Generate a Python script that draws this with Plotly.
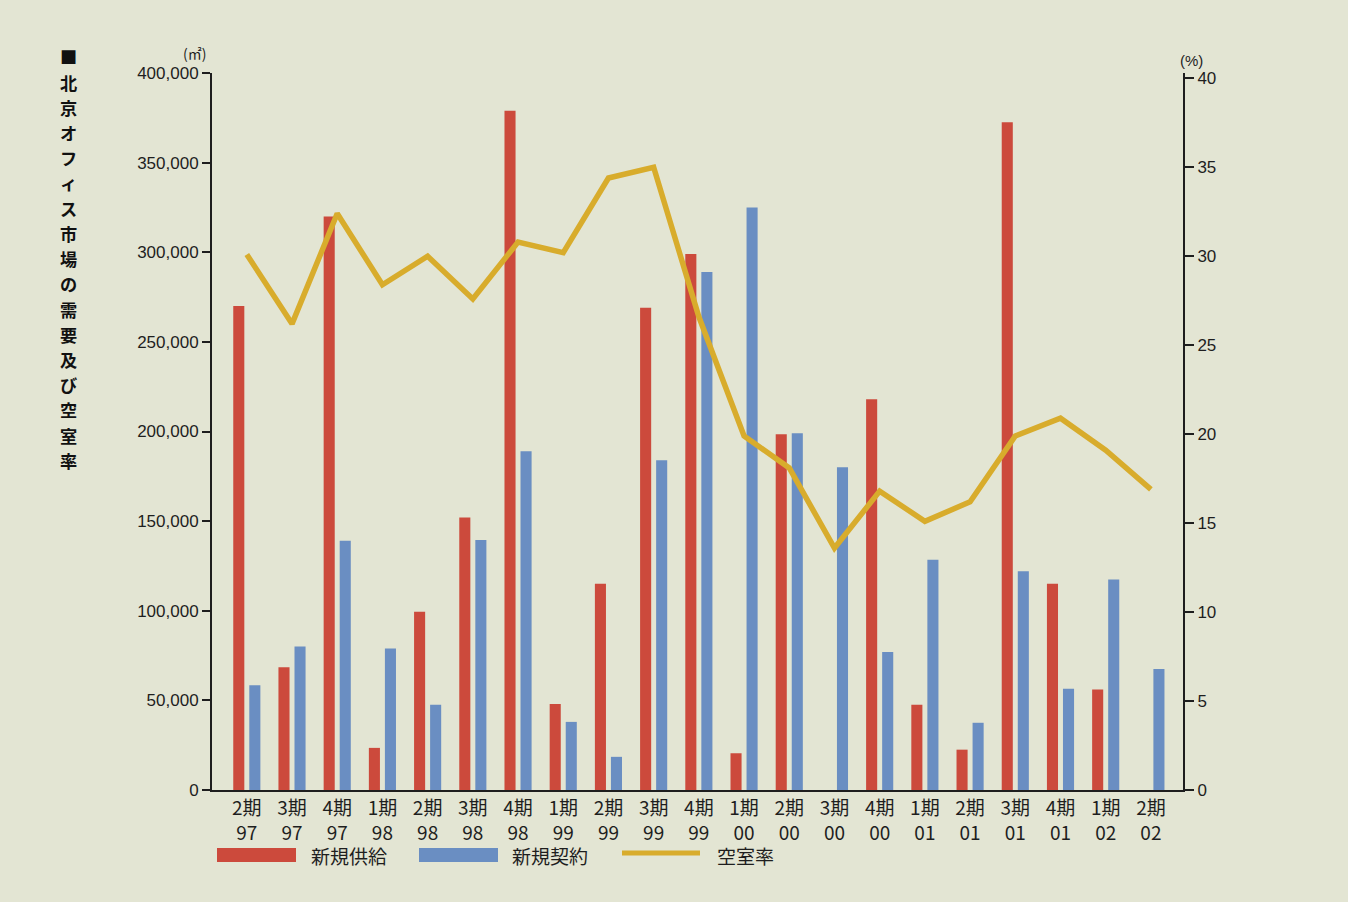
import plotly.graph_objects as go

# Quarterly office market data, Beijing
periods = ["2期", "3期", "4期", "1期", "2期", "3期", "4期", "1期", "2期", "3期", "4期",
           "1期", "2期", "3期", "4期", "1期", "2期", "3期", "4期", "1期", "2期"]
years = ["97", "97", "97", "98", "98", "98", "98", "99", "99", "99", "99",
         "00", "00", "00", "00", "01", "01", "01", "01", "02", "02"]

# new supply (m2)
new_supply = [270000, 68500, 320000, 23500, 99500, 152000, 379000, 48000, 115000, 269000, 299000,
              20500, 198500, None, 218000, 47500, 22500, 372500, 115000, 56000, None]
# new contracts (m2)
new_contract = [58500, 80000, 139000, 79000, 47500, 139500, 189000, 38000, 18500, 184000, 289000,
                325000, 199000, 180000, 77000, 128500, 37500, 122000, 56500, 117500, 67500]
# vacancy rate (%)
vacancy = [30.1, 26.2, 32.4, 28.4, 30.0, 27.6, 30.8, 30.2, 34.4, 35.0, 26.6,
           19.9, 18.1, 13.6, 16.8, 15.1, 16.2, 19.9, 20.9, 19.1, 16.9]

left_ticks = [0, 50000, 100000, 150000, 200000, 250000, 300000, 350000, 400000]
right_ticks = [0, 5, 10, 15, 20, 25, 30, 35, 40]

categories = [f"{p}{y}" for p, y in zip(periods, years)]
tick_text = [f"{p}<br>{y}" for p, y in zip(periods, years)]

W, H = 1348, 902
ML, MR, MT, MB = 212, 165, 73, 112
PW, PH = W - ML - MR, H - MT - MB

RED = "#cc4a3c"
BLUE = "#6a8ec2"
GOLD = "#d8ac2c"
INK = "#1e1e1e"
BG = "#e3e5d3"
TXT = "Liberation Sans, Arial, sans-serif"
JP = "Noto Sans CJK JP, sans-serif"


def fx(px):
    return (px - ML) / PW


def fy(py):
    return (H - MB - py) / PH


fig = go.Figure()

fig.add_trace(go.Bar(
    x=categories, y=new_supply, name="新規供給",
    marker=dict(color=RED, line=dict(width=0)),
    width=0.245, offset=-0.30, showlegend=False,
))
fig.add_trace(go.Bar(
    x=categories, y=new_contract, name="新規契約",
    marker=dict(color=BLUE, line=dict(width=0)),
    width=0.245, offset=0.055, showlegend=False,
))
fig.add_trace(go.Scatter(
    x=categories, y=vacancy, name="空室率", yaxis="y2",
    mode="lines", line=dict(color=GOLD, width=5.5), showlegend=False,
))

fig.update_layout(
    width=W, height=H, autosize=False,
    margin=dict(l=ML, r=MR, t=MT, b=MB, pad=0),
    paper_bgcolor=BG, plot_bgcolor=BG,
    barmode="overlay",
    font=dict(family=TXT, color=INK),
    xaxis=dict(
        type="category", categoryorder="array", categoryarray=categories,
        range=[-0.77, 20.71],
        tickmode="array", tickvals=categories, ticktext=tick_text,
        tickfont=dict(family=JP, size=19, color=INK),
        ticks="", showgrid=False, zeroline=False,
        showline=True, linecolor=INK, linewidth=2,
    ),
    yaxis=dict(
        range=[0, 400000], tickmode="array", tickvals=left_ticks,
        tickformat=",d", tickfont=dict(size=17, color=INK),
        ticks="outside", ticklen=8, tickwidth=2, tickcolor=INK,
        showgrid=False, zeroline=False,
        showline=True, linecolor=INK, linewidth=2,
    ),
    yaxis2=dict(
        overlaying="y", side="right", anchor="x",
        range=[0, 40.3], tickmode="array", tickvals=right_ticks,
        tickfont=dict(size=17, color=INK),
        ticks="outside", ticklen=9, tickwidth=2, tickcolor=INK,
        showgrid=False, zeroline=False,
        showline=True, linecolor=INK, linewidth=2,
    ),
)

annotations = []
shapes = []

# vertical title, one character per cell
title = "■北京オフィス市場の需要及び空室率"
for i, ch in enumerate(title):
    annotations.append(dict(
        text=f"<b>{ch}</b>", xref="paper", yref="paper",
        x=fx(68), y=fy(57 + i * 25.2), showarrow=False,
        xanchor="center", yanchor="middle",
        font=dict(family=JP, size=17.2, color="#111111"),
    ))

# axis unit labels
annotations.append(dict(text="(㎡)", xref="paper", yref="paper", x=fx(194), y=fy(53),
                        showarrow=False, xanchor="center", yanchor="middle",
                        font=dict(family=JP, size=14, color=INK)))
annotations.append(dict(text="(%)", xref="paper", yref="paper", x=fx(1191), y=fy(61),
                        showarrow=False, xanchor="center", yanchor="middle",
                        font=dict(size=15, color=INK)))

# legend
legend_items = [
    ("新規供給", RED, "bar", 217, 296, 309),
    ("新規契約", BLUE, "bar", 419, 498, 510),
    ("空室率", GOLD, "line", 622, 700, 715),
]
LY = 855
for label, color, kind, x0, x1, tx in legend_items:
    if kind == "bar":
        shapes.append(dict(type="rect", xref="paper", yref="paper",
                           x0=fx(x0), x1=fx(x1), y0=fy(LY + 7), y1=fy(LY - 7),
                           fillcolor=color, line=dict(width=0)))
    else:
        shapes.append(dict(type="line", xref="paper", yref="paper",
                           x0=fx(x0), x1=fx(x1), y0=fy(LY - 2), y1=fy(LY - 2),
                           line=dict(color=color, width=5)))
    annotations.append(dict(text=label, xref="paper", yref="paper", x=fx(tx), y=fy(LY),
                            showarrow=False, xanchor="left", yanchor="middle",
                            font=dict(family=JP, size=19, color=INK)))

fig.update_layout(annotations=annotations, shapes=shapes)

fig.write_html("out.html")
